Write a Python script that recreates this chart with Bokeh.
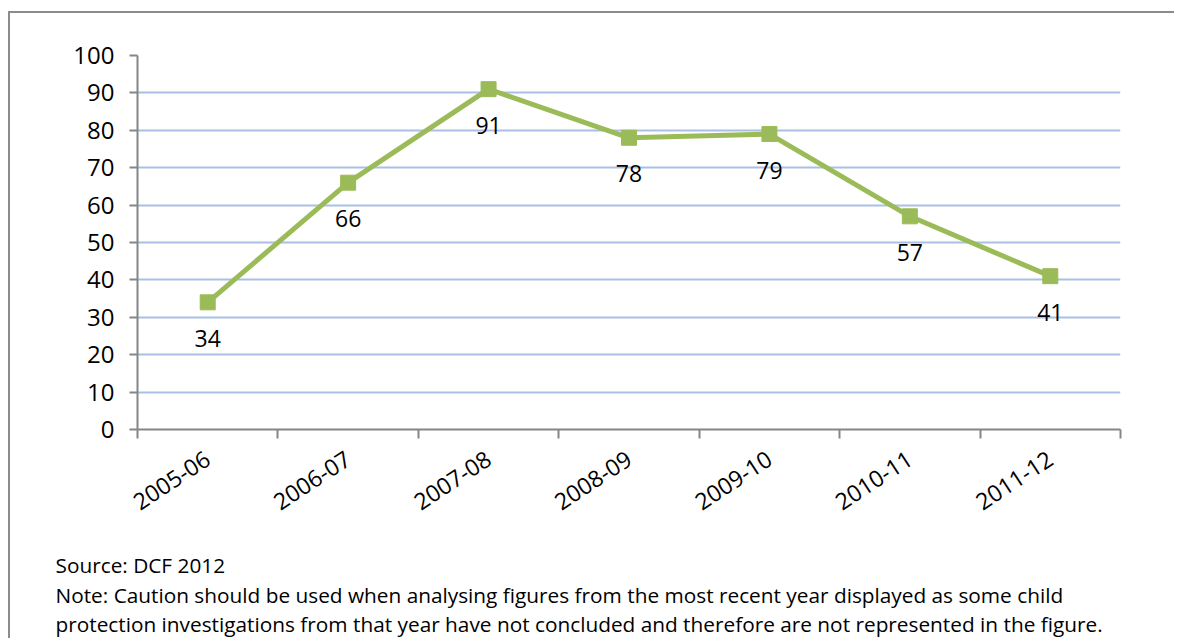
import math
from bokeh.plotting import figure
from bokeh.models import Range1d, FixedTicker, Title, LabelSet, ColumnDataSource
from bokeh.core.properties import value
from bokeh.embed import file_html
from bokeh.resources import INLINE

categories = ["2005-06", "2006-07", "2007-08", "2008-09", "2009-10", "2010-11", "2011-12"]
values = [34, 66, 91, 78, 79, 57, 41]
y_ticks = [0, 10, 20, 30, 40, 50, 60, 70, 80, 90, 100]
source_text = "Source: DCF 2012"
note_line1 = "Note: Caution should be used when analysing figures from the most recent year displayed as some child"
note_line2 = "protection investigations from that year have not concluded and therefore are not represented in the figure."

FONT = "Open Sans"
GREEN = "#9BBB59"
AXIS = "#868686"

xs = [i + 0.5 for i in range(len(categories))]
src = ColumnDataSource(dict(x=xs, y=values, lab=[str(v) for v in values]))

p = figure(width=1166, height=627, x_range=Range1d(0, len(categories)), y_range=Range1d(0, 100),
           output_backend="svg", toolbar_location=None,
           min_border_left=127, min_border_right=56, min_border_top=42, min_border_bottom=211)
p.outline_line_color = None
p.styles = {"border-top": "2px solid #8c8c8c", "border-left": "2px solid #8c8c8c",
            "margin-top": "11px", "margin-left": "8px"}

# y axis
p.yaxis.ticker = FixedTicker(ticks=y_ticks)
p.yaxis.axis_line_color = AXIS
p.yaxis.axis_line_width = 2
p.yaxis.major_tick_line_color = AXIS
p.yaxis.major_tick_line_width = 2
p.yaxis.major_tick_out = 8
p.yaxis.major_tick_in = 0
p.yaxis.minor_tick_line_color = None
p.yaxis.major_label_text_font = FONT
p.yaxis.major_label_text_font_size = "24px"
p.yaxis.major_label_text_color = "black"
p.yaxis.major_label_standoff = 15

# x axis
p.xaxis.ticker = FixedTicker(ticks=xs, minor_ticks=list(range(len(categories) + 1)))
p.xaxis.major_label_overrides = {x: c for x, c in zip(xs, categories)}
p.xaxis.axis_line_color = AXIS
p.xaxis.axis_line_width = 2
p.xaxis.major_tick_line_color = None
p.xaxis.minor_tick_line_color = AXIS
p.xaxis.minor_tick_line_width = 2
p.xaxis.minor_tick_out = 9
p.xaxis.minor_tick_in = 0
p.xaxis.major_label_orientation = 0.58
p.xaxis.major_label_text_font = FONT
p.xaxis.major_label_text_font_size = "23px"
p.xaxis.major_label_text_color = "black"
p.xaxis.major_label_standoff = 18
# blank axis label used only as vertical spacing before the notes
p.xaxis.axis_label = " "
p.xaxis.axis_label_text_font_size = "1px"
p.xaxis.axis_label_standoff = 25

p.xgrid.grid_line_color = None
p.ygrid.grid_line_color = "#A9C0E4"
p.ygrid.grid_line_width = 2

p.line("x", "y", source=src, line_color=GREEN, line_width=5)
p.scatter("x", "y", source=src, marker="square", size=15, fill_color=GREEN, line_color=GREEN)

labels = LabelSet(x="x", y="y", text="lab", source=src, y_offset=-36, text_align="center",
                  text_baseline="middle", text_font=value(FONT), text_font_size="23px", text_color="black")
p.add_layout(labels)

p.add_layout(Title(text=source_text, align="left", offset=-82, standoff=0, vertical_align="top",
                   text_font=FONT, text_font_size="20.8px", text_font_style="normal",
                   text_color="black", text_line_height=1.0), "below")
p.add_layout(Title(text=note_line1 + "\n" + note_line2, align="left", offset=-82, standoff=0,
                   vertical_align="top", text_font=FONT, text_font_size="20.8px",
                   text_font_style="normal", text_color="black", text_line_height=1.04), "below")

open("out.html", "w").write(file_html(p, INLINE))
